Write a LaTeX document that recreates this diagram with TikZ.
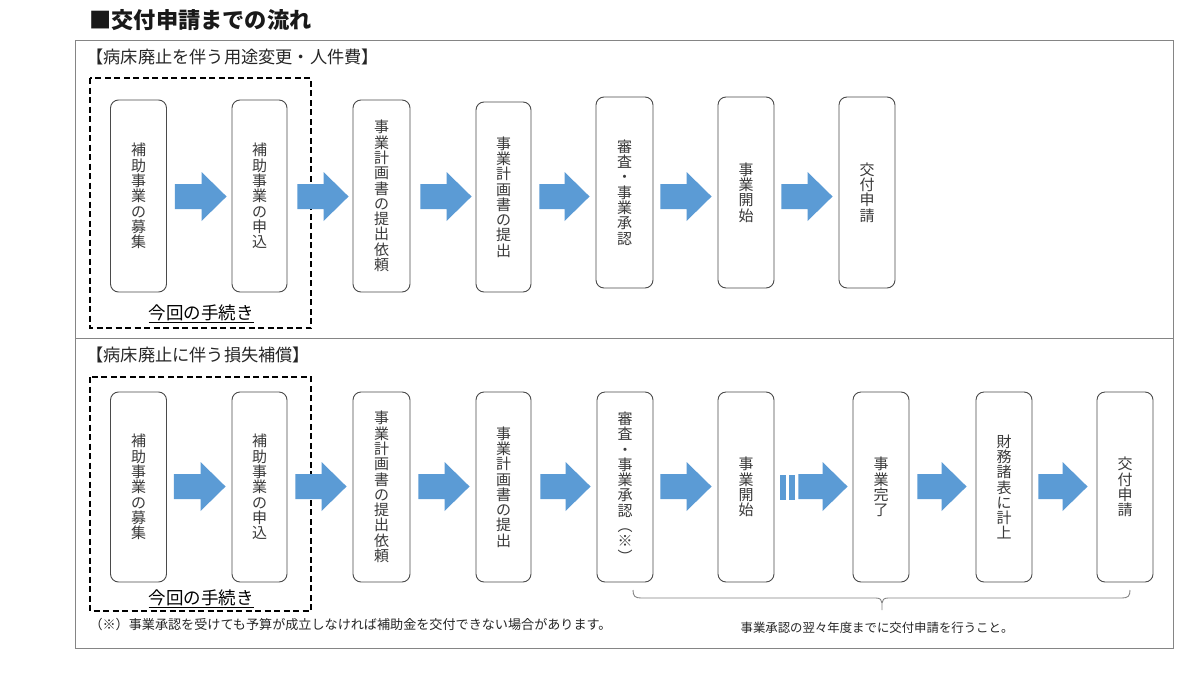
\documentclass[tikz,border=0pt]{standalone}
\usepackage{fontspec}
\setmainfont{Noto Sans CJK JP}
\usetikzlibrary{calc}
\definecolor{arrowblue}{HTML}{5B9BD5}
\definecolor{boxline}{HTML}{4A4A4A}
\definecolor{txt}{HTML}{3A3A3A}
\definecolor{framecol}{HTML}{858585}
\newcommand\blockarrow[5]{%
  \path (#1.east) ++(#4,0) coordinate (aS);
  \path (#2.west) ++(-#5,0) coordinate (aE);
  \fill[arrowblue] let \p1=(aS |- 0,#3), \p2=(aE |- 0,#3) in
    (\x1,\y1+12.5pt) -- (\x2-25pt,\y1+12.5pt) -- (\x2-25pt,\y1+24.5pt) --
    (\x2,\y1) -- (\x2-25pt,\y1-24.5pt) -- (\x2-25pt,\y1-12.5pt) --
    (\x1,\y1-12.5pt) -- cycle;
}
\begin{document}
\begin{tikzpicture}[x=1pt,y=-1pt,
  stepbox/.style={draw=boxline, line width=0.9pt, rounded corners=8pt,
    minimum width=56pt, minimum height=190pt, inner sep=0pt, align=center,
    font=\fontsize{15}{15.3}\selectfont, text=txt},
  dashframe/.style={draw=black, line width=1.5pt, dash pattern=on 6pt off 3.5pt},
  heading/.style={anchor=west, font=\fontsize{17.2}{17.2}\selectfont, text=black!85},
  kaisu/.style={font=\fontsize{17.5}{17.5}\selectfont, text=black},
  note/.style={font=\fontsize{13.1}{13.1}\selectfont, text=black!85},
  bracecol/.style={draw=framecol, line width=0.9pt}]
\useasboundingbox (0,0) rectangle (1200,675);
\fill[white] (0,0) rectangle (1200,675);

% title and frame
\node[anchor=west, font=\fontsize{22.2}{22.2}\selectfont\bfseries, text=black!90] (title) at (86,20) {■交付申請までの流れ};
\draw[framecol, line width=1pt] (75,40) rectangle (1173,648);
\draw[framecol, line width=1pt] (75,338) -- (1173,338);

% ---------- top section ----------
\node[heading] (h1) at (83,57) {【病床廃止を伴う用途変更・人件費】};
\draw[dashframe] (90,78) rectangle (311,328);
\node[kaisu] (k1) at (201,314) {\underline{今回の手続き}};

\node[stepbox, minimum height=192pt] (t1) at (138.5,196) {補\\助\\事\\業\\の\\募\\集};
\node[stepbox, minimum height=192pt, minimum width=55pt] (t2) at (259.5,196) {補\\助\\事\\業\\の\\申\\込};
\node[stepbox, minimum height=192pt, minimum width=57pt] (t3) at (381.5,196) {事\\業\\計\\画\\書\\の\\提\\出\\依\\頼};
\node[stepbox, minimum width=55pt] (t4) at (503.5,197) {事\\業\\計\\画\\書\\の\\提\\出};
\node[stepbox, minimum height=191pt, minimum width=57pt] (t5) at (624.5,192.5) {審\\査\\・\\事\\業\\承\\認};
\node[stepbox, minimum height=191pt] (t6) at (746,192.5) {事\\業\\開\\始};
\node[stepbox, minimum height=191pt] (t7) at (867,192.5) {交\\付\\申\\請};

\blockarrow{t1}{t2}{196.5}{8}{5}
\blockarrow{t2}{t3}{196.5}{10}{4}
\blockarrow{t3}{t4}{196.5}{10}{4}
\blockarrow{t4}{t5}{196.5}{8}{6}
\blockarrow{t5}{t6}{196.5}{7}{6}
\blockarrow{t6}{t7}{196.5}{7}{6}

% ---------- bottom section ----------
\node[heading] (h2) at (83,355) {【病床廃止に伴う損失補償】};
\draw[dashframe] (90,377) rectangle (311,611);
\node[kaisu] (k2) at (201,599) {\underline{今回の手続き}};

\node[stepbox] (b1) at (138.5,487) {補\\助\\事\\業\\の\\募\\集};
\node[stepbox, minimum width=55pt] (b2) at (259.5,487) {補\\助\\事\\業\\の\\申\\込};
\node[stepbox, minimum width=57pt] (b3) at (381.5,487) {事\\業\\計\\画\\書\\の\\提\\出\\依\\頼};
\node[stepbox, minimum width=55pt] (b4) at (503.5,487) {事\\業\\計\\画\\書\\の\\提\\出};
\node[stepbox] (b5) at (625,487) {審\\査\\・\\事\\業\\承\\認\\︵\\※\\︶};
\node[stepbox] (b6) at (746,487) {事\\業\\開\\始};
\node[stepbox] (b7) at (881,487) {事\\業\\完\\了};
\node[stepbox] (b8) at (1004,487) {財\\務\\諸\\表\\に\\計\\上};
\node[stepbox] (b9) at (1125,487) {交\\付\\申\\請};

\blockarrow{b1}{b2}{486.5}{7}{6}
\blockarrow{b2}{b3}{486.5}{8}{6}
\blockarrow{b3}{b4}{486.5}{8}{6}
\blockarrow{b4}{b5}{486.5}{9}{6}
\blockarrow{b5}{b6}{486.5}{7}{6}
\blockarrow{b6}{b7}{486.5}{24}{5}
\fill[arrowblue] ($(b6.east)+(6,-12.5)$) rectangle ($(b6.east)+(11.5,12.5)$);
\fill[arrowblue] ($(b6.east)+(15,-12.5)$) rectangle ($(b6.east)+(21,12.5)$);
\blockarrow{b7}{b8}{486.5}{8}{9}
\blockarrow{b8}{b9}{486.5}{6}{9}

% brace
\coordinate (brL) at (633,590);
\coordinate (brR) at (1130,590);
\coordinate (brT) at (882,610);
\draw[bracecol] (brL) .. controls (633,596) and (635,598) .. (641,598) -- (876,598)
  .. controls (880,598) and (882,600) .. (882,603) -- (brT);
\draw[bracecol] (882,603) .. controls (882,600) and (884,598) .. (888,598) -- (1122,598)
  .. controls (1128,598) and (1130,596) .. (brR);

\node[note, anchor=west] (fn) at (86,625) {（※）事業承認を受けても予算が成立しなければ補助金を交付できない場合があります。};
\node[font=\fontsize{12.4}{12.4}\selectfont, text=black!85] (bn) at (877,628) {事業承認の翌々年度までに交付申請を行うこと。};
\end{tikzpicture}
\end{document}
